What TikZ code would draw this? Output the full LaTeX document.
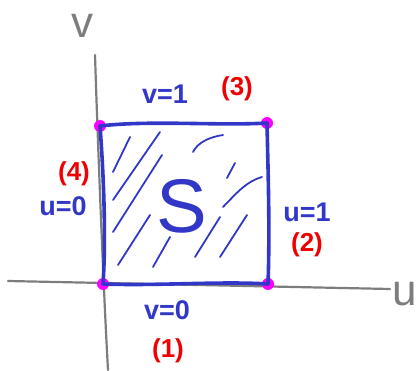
\documentclass[tikz,border=0pt]{standalone}
\usepackage{fontspec}
\setmainfont{Liberation Sans}
\usetikzlibrary{positioning}
\definecolor{penblue}{RGB}{50,55,200}
\definecolor{penred}{RGB}{240,0,0}
\definecolor{pengray}{RGB}{125,125,125}
\definecolor{penpink}{RGB}{255,0,255}

\begin{document}
\begin{tikzpicture}[
  x=1pt, y=-1pt,
  axis/.style={pengray, line width=2.2pt, line cap=round},
  edge/.style={penblue, line width=3.6pt, line cap=round, line join=round},
  hatch/.style={penblue, line width=1.8pt, line cap=round},
  corner/.style={circle, fill=penpink, inner sep=0pt, minimum size=12pt},
  bl/.style={text=penblue, font=\fontsize{27}{29}\selectfont\bfseries, inner sep=1pt},
  rd/.style={text=penred, font=\fontsize{26}{28}\selectfont\bfseries, inner sep=1pt}
]
  \useasboundingbox (0,0) rectangle (420,371);

  % --- axes ---
  \coordinate (uL) at (8,281);
  \coordinate (uR) at (390,289);
  \coordinate (vT) at (95,55);
  \coordinate (vB) at (108,370);
  \draw[axis] (uL) -- (uR);
  \draw[axis] (vT) .. controls (98,150) and (104,300) .. (vB);
  \node[text=pengray, font=\fontsize{44}{46}\selectfont] (ulab) at (405,294) {u};
  \node[text=pengray, font=\fontsize{44}{46}\selectfont] (vlab) at (82,26) {v};

  % --- corners of S ---
  \node[corner] (p1) at (103,284) {};
  \node[corner] (p2) at (268,284) {};
  \node[corner] (p3) at (267,123) {};
  \node[corner] (p4) at (100,126) {};

  % --- boundary ---
  \draw[edge] (p1.center) .. controls (160,286) and (220,281) .. (p2.center);
  \draw[edge] (p2.center) .. controls (270,230) and (268,170) .. (p3.center);
  \draw[edge] (p3.center) .. controls (220,126) and (150,120) .. (p4.center);
  \draw[edge] (p4.center) .. controls (104,180) and (106,240) .. (p1.center);

  % --- hatching ---
  \draw[hatch] (130,137) -- (113,172);
  \draw[hatch] (160,132) -- (113,200);
  \draw[hatch] (162,155) -- (113,232);
  \draw[hatch] (150,215) -- (118,265);
  \draw[hatch] (170,237) -- (153,267);
  \draw[hatch] (193,152) .. controls (198,142) and (210,137) .. (223,135);
  \draw[hatch] (235,163) -- (227,178);
  \draw[hatch] (262,177) .. controls (245,182) and (235,195) .. (223,207);
  \draw[hatch] (220,217) -- (195,257);
  \draw[hatch] (247,215) -- (220,257);

  % --- labels ---
  \node[text=penblue, font=\fontsize{76}{78}\selectfont] (S) at (182,206) {S};
  \node[bl] (top) at (165,94) {v=1};
  \node[rd] (n3) at (237,89) {(3)};
  \node[bl] (bot) at (167,310) {v=0};
  \node[rd] (n1) at (168,351) {(1)};
  \node[bl] (lft) at (63,206) {u=0};
  \node[rd] (n4) at (74,174) {(4)};
  \node[bl] (rgt) at (307,212) {u=1};
  \node[rd] (n2) at (307,245) {(2)};
\end{tikzpicture}
\end{document}
